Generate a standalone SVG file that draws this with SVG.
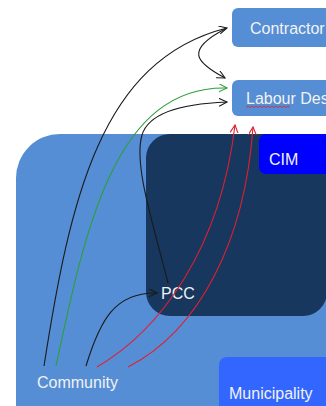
<svg xmlns="http://www.w3.org/2000/svg" width="326" height="406" viewBox="0 0 326 406">
<style>
.lbl{font-family:"Liberation Sans",Arial,sans-serif;font-size:16px;fill:#F2F2F2}
.c{fill:none;stroke-width:1.1}
.k{stroke:#1a1a1a}
.g{stroke:#2E9E3A}
.r{stroke:#E02030}
</style>
<defs>
<marker id="ak" markerWidth="10" markerHeight="10" refX="8" refY="4" orient="auto" markerUnits="userSpaceOnUse"><path d="M0,0 L8,4 L0,8" fill="none" stroke="#1a1a1a" stroke-width="1.1"/></marker>
<marker id="ag" markerWidth="10" markerHeight="10" refX="8" refY="4" orient="auto" markerUnits="userSpaceOnUse"><path d="M0,0 L8,4 L0,8" fill="none" stroke="#2E9E3A" stroke-width="1.1"/></marker>
<marker id="ar" markerWidth="10" markerHeight="10" refX="8" refY="4" orient="auto" markerUnits="userSpaceOnUse"><path d="M0,0 L8,4 L0,8" fill="none" stroke="#E02030" stroke-width="1.1"/></marker>
</defs>
<rect width="326" height="406" fill="#FFFFFF"/>
<g id="community">
<rect x="16" y="134" width="360" height="320" rx="44" fill="#558ED5"/>
<text class="lbl" x="37" y="388">Community</text>
</g>
<g id="pcc">
<rect x="146" y="134" width="181" height="182" rx="24" fill="#17375E"/>
<text class="lbl" x="161" y="299" font-size="15">PCC</text>
</g>
<g id="cim">
<rect x="259" y="134" width="90" height="40" rx="7" fill="#0000FF"/>
<text class="lbl" x="269" y="165" font-size="15">CIM</text>
</g>
<g id="municipality">
<rect x="219" y="357" width="130" height="70" rx="8" fill="#3366FF"/>
<text class="lbl" x="229" y="399">Municipality</text>
</g>
<g id="contractor">
<rect x="232" y="8" width="120" height="39" rx="6" fill="#558ED5"/>
<text class="lbl" x="250" y="34">Contractor</text>
</g>
<g id="labour-desk">
<rect x="232" y="80" width="120" height="36" rx="6" fill="#558ED5"/>
<text class="lbl" x="246" y="104">Labour Desk</text>
<path d="M246,107.5 l2,-1.5 l2,1.5 l2,-1.5 l2,1.5 l2,-1.5 l2,1.5 l2,-1.5 l2,1.5 l2,-1.5 l2,1.5 l2,-1.5 l2,1.5 l2,-1.5 l2,1.5 l2,-1.5 l2,1.5 l2,-1.5 l2,1.5 l2,-1.5 l2,1.5 l2,-1.5 l2,1.5" fill="none" stroke="#E02030" stroke-width="0.8"/>
</g>
<g id="connectors">
<path class="c k" d="M44,366 C70,200 100,60 227,28" marker-end="url(#ak)"/>
<path class="c g" d="M56,366 C85,230 115,85 227,88" marker-end="url(#ag)"/>
<path class="c k" d="M168,283 C155,230 133,165 142,135 C148,115 175,104 227,102" marker-end="url(#ak)"/>
<path class="c k" d="M225,29 C185,50 195,62 225,78" marker-end="url(#ak)"/>
<path class="c k" d="M86,366 C100,320 115,292 157,293" marker-end="url(#ak)"/>
<path class="c r" d="M97,367 C160,330 220,250 235,125" marker-end="url(#ar)"/>
<path class="c r" d="M128,367 C200,330 245,240 253,127" marker-end="url(#ar)"/>
</g>
</svg>
